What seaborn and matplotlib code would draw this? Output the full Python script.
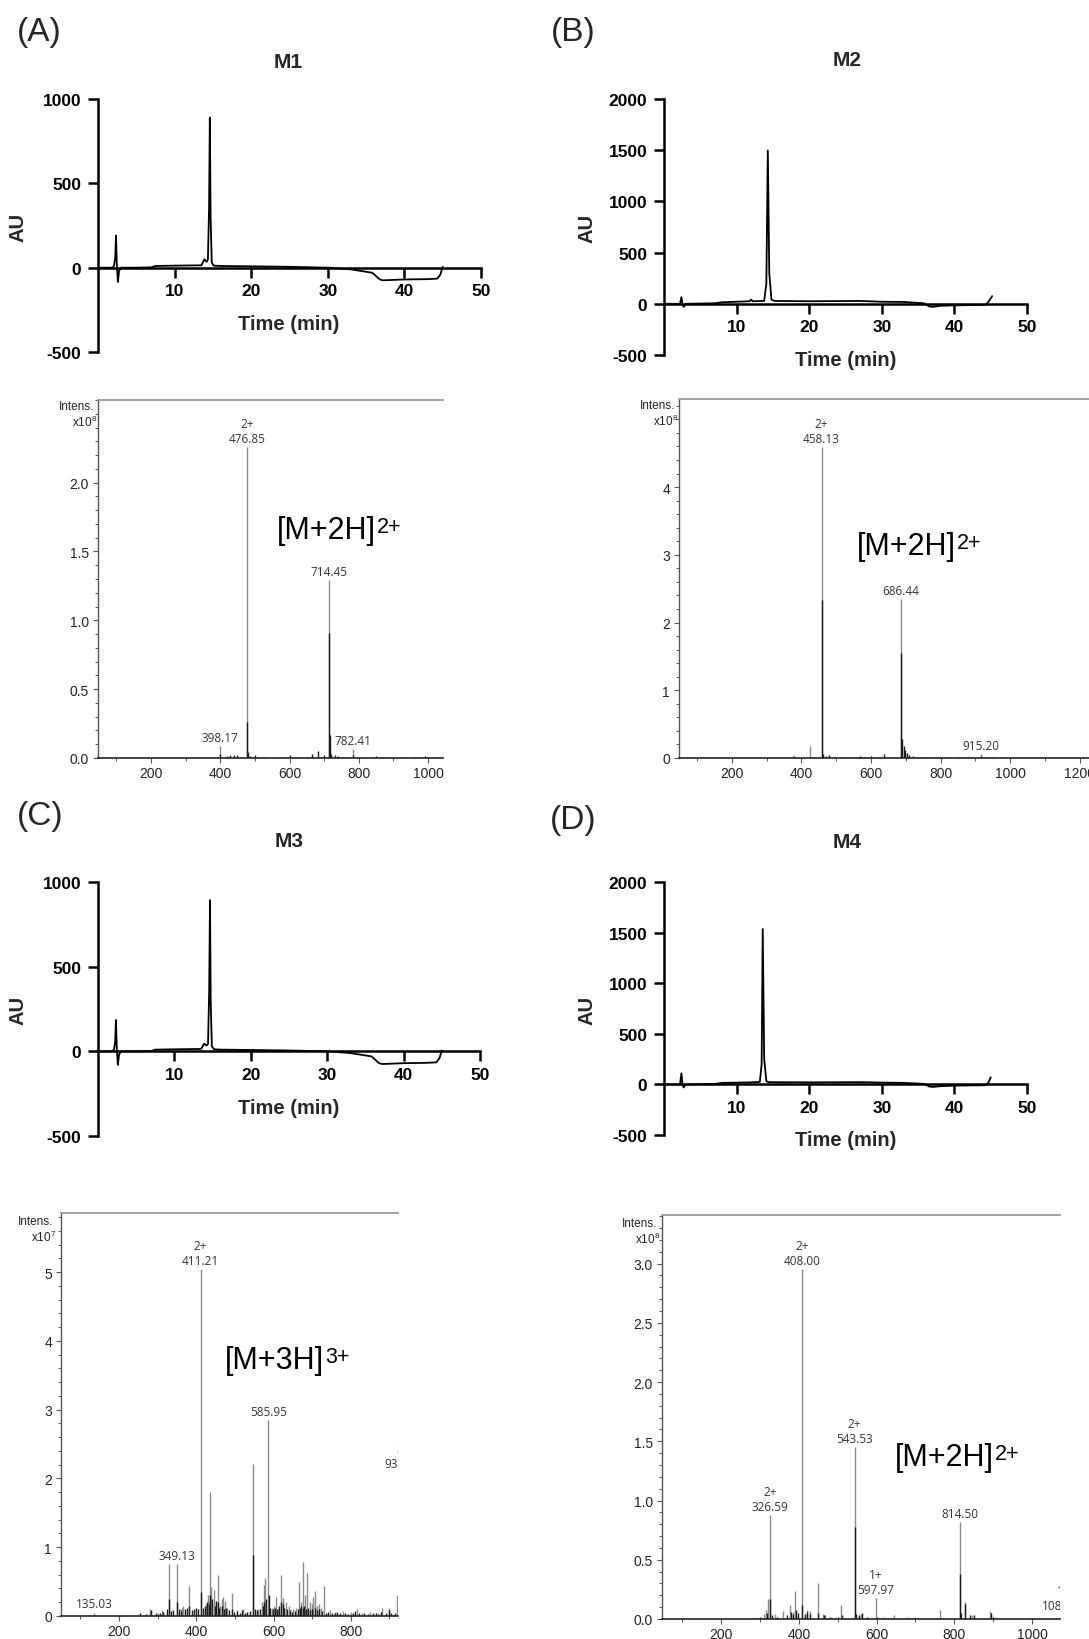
import numpy as np
import pandas as pd
import matplotlib
matplotlib.use("Agg")
import matplotlib.pyplot as plt
from matplotlib.ticker import MultipleLocator, FormatStrFormatter, FixedLocator
import seaborn as sns

# ---------------- data: HPLC chromatograms (time in min, absorbance AU) ----------------
m1_time = [0, 1.9, 2.1, 2.25, 2.35, 2.45, 2.6, 2.75, 3.0, 5, 7, 7.5, 10, 13.5, 13.9, 14.05,
           14.2, 14.35, 14.5, 14.6, 14.7, 14.85, 15.1, 16, 20, 25, 30, 33, 35.8, 36.3, 36.8,
           37.2, 40, 43, 44.3, 44.7, 45.0]
m1_au = [0, 0, 12, 60, 190, 30, -85, -20, 0, 0, 2, 10, 12, 14, 50, 40,
         35, 50, 350, 890, 300, 30, 12, 10, 8, 5, 0, -10, -30, -50, -70,
         -75, -70, -68, -65, -40, 5]

m2_time = [0, 2.2, 2.4, 2.55, 2.7, 3, 7, 8, 11.8, 12.0, 12.2, 13.8, 14.1, 14.3, 14.5, 14.8,
           15.2, 20, 27, 30, 33, 35.8, 36.5, 37.0, 38, 40, 44.3, 44.7, 45.2]
m2_au = [0, 0, 65, 0, -30, 0, 5, 15, 25, 42, 25, 28, 200, 1497, 300, 40,
         28, 25, 28, 20, 18, 5, -25, -30, -20, -15, -10, 20, 75]

m3_time = [0, 1.9, 2.1, 2.25, 2.35, 2.45, 2.6, 2.75, 3.0, 5, 7, 7.5, 10, 13.5, 13.9, 14.1,
           14.25, 14.4, 14.55, 14.66, 14.75, 14.9, 15.2, 16, 20, 25, 30, 33, 35.8, 36.3, 36.8,
           37.2, 40, 43, 44.3, 44.7, 45.0]
m3_au = [0, 0, 12, 60, 185, 30, -80, -20, 0, 0, 2, 10, 12, 14, 45, 38,
         35, 45, 350, 893, 300, 30, 12, 10, 8, 5, 0, -10, -30, -50, -70,
         -75, -70, -68, -65, -40, 5]

m4_time = [0, 2.2, 2.4, 2.55, 2.7, 3, 7, 8, 12, 13.2, 13.45, 13.6, 13.8, 14.1, 14.5, 20,
           27, 30, 33, 35.8, 36.5, 37.0, 38, 40, 44.3, 44.7, 45.0]
m4_au = [0, 0, 110, 0, -30, 0, 5, 15, 20, 25, 200, 1535, 250, 30, 22, 20,
         22, 18, 15, 5, -20, -25, -18, -12, -8, 20, 70]

# ---------------- data: ESI-MS spectra (m/z, intensity in units of the axis multiplier) -----
m1_mz = [398.17, 476.85, 714.45, 782.41]
m1_int = [0.085, 2.26, 1.29, 0.065]
m1_dark_mz = [398, 420, 428, 440, 447, 476.85, 479, 485, 500, 510, 530, 560, 600, 620, 650, 665,
              681, 700, 714.45, 717, 720, 730, 740, 750, 782, 800, 850, 900, 960, 990]
m1_dark_int = [0.03, 0.015, 0.02, 0.02, 0.025, 0.26, 0.04, 0.015, 0.025, 0.01, 0.01, 0.01, 0.025,
               0.01, 0.01, 0.03, 0.053, 0.02, 0.91, 0.17, 0.03, 0.02, 0.015, 0.01, 0.02, 0.01,
               0.012, 0.01, 0.008, 0.015]
m1_lab_mz = [476.85, 714.45, 398.17, 782.41]
m1_lab_int = [2.26, 1.29, 0.085, 0.065]
m1_lab_txt = ["2+\n476.85", "714.45", "398.17", "782.41"]

m2_mz = [375, 425, 458.13, 478, 600, 638, 686.44, 915.20]
m2_int = [0.03, 0.18, 4.59, 0.05, 0.03, 0.07, 2.35, 0.06]
m2_dark_mz = [380, 440, 458.13, 461, 470, 480, 495, 510, 560, 568, 580, 600, 620, 638, 686.44,
              689, 694, 699, 704, 710, 720, 740, 760, 800, 850, 880, 915, 950, 1100]
m2_dark_int = [0.03, 0.02, 2.33, 0.06, 0.03, 0.05, 0.02, 0.02, 0.02, 0.03, 0.02, 0.025, 0.01,
               0.05, 1.55, 0.28, 0.17, 0.12, 0.07, 0.05, 0.03, 0.02, 0.01, 0.01, 0.01, 0.01,
               0.03, 0.01, 0.01]
m2_lab_mz = [458.13, 686.44, 915.20]
m2_lab_int = [4.59, 2.35, 0.06]
m2_lab_txt = ["2+\n458.13", "686.44", "915.20"]

m3_mz = [135.03, 280, 300, 312, 328.6, 349.13, 362, 366, 382, 411.21, 425, 430, 433, 436, 439,
         445, 450, 456, 462, 466, 470, 475, 480, 491.6, 505, 520, 530, 547.6, 560, 570, 575,
         579, 585.95, 595, 602, 607, 612, 619, 625, 632, 640, 650, 658, 665, 670, 677, 681,
         686, 695, 700, 703, 707, 712, 718, 724, 730, 745, 760, 780, 800, 815, 830, 850, 870,
         880, 900, 920]
m3_int = [0.05, 0.1, 0.05, 0.08, 0.75, 0.75, 0.12, 0.15, 0.43, 5.05, 0.18, 0.3, 0.22, 1.81,
          0.42, 0.38, 0.2, 0.59, 0.15, 0.25, 0.27, 0.22, 0.12, 0.33, 0.08, 0.1, 0.06, 2.21,
          0.1, 0.2, 0.45, 0.55, 2.85, 0.12, 0.15, 0.28, 0.1, 0.59, 0.26, 0.2, 0.15, 0.1, 0.12,
          0.5, 0.2, 0.78, 0.3, 0.62, 0.2, 0.18, 0.27, 0.36, 0.15, 0.17, 0.12, 0.43, 0.08,
          0.06, 0.07, 0.06, 0.1, 0.05, 0.06, 0.05, 0.12, 0.12, 0.31]
m3_dark_mz = [255, 270, 282, 295, 305, 315, 325, 329, 335, 340, 349, 355, 360, 370, 375, 382,
              390, 395, 400, 405, 411, 418, 422, 428, 432, 436, 442, 448, 452, 456, 460, 466,
              472, 478, 485, 492, 498, 505, 512, 518, 525, 532, 540, 548, 552, 558, 565, 572,
              576, 580, 587, 592, 598, 604, 610, 615, 620, 624, 628, 635, 642, 648, 655, 662,
              668, 672, 676, 680, 684, 690, 695, 700, 706, 712, 718, 725, 735, 742, 750, 758,
              765, 772, 785, 792, 805, 812, 820, 835, 845, 858, 865, 878, 890, 898, 905, 915]
m3_dark_int = [0.04, 0.03, 0.08, 0.05, 0.04, 0.06, 0.1, 0.25, 0.07, 0.08, 0.2, 0.1, 0.08, 0.1,
               0.12, 0.15, 0.08, 0.1, 0.12, 0.1, 0.35, 0.12, 0.15, 0.2, 0.18, 0.3, 0.25, 0.15,
               0.22, 0.2, 0.12, 0.15, 0.1, 0.12, 0.08, 0.1, 0.06, 0.07, 0.05, 0.08, 0.05, 0.06,
               0.07, 0.88, 0.1, 0.08, 0.1, 0.15, 0.2, 0.25, 0.3, 0.12, 0.1, 0.12, 0.1, 0.15,
               0.2, 0.18, 0.12, 0.1, 0.08, 0.06, 0.07, 0.1, 0.12, 0.15, 0.12, 0.15, 0.1, 0.12,
               0.08, 0.1, 0.12, 0.08, 0.1, 0.07, 0.05, 0.06, 0.04, 0.05, 0.06, 0.04, 0.05, 0.03,
               0.05, 0.07, 0.04, 0.05, 0.03, 0.04, 0.05, 0.06, 0.04, 0.08, 0.04, 0.05]
m3_lab_mz = [135.03, 349.13, 411.21, 585.95, 935.40]
m3_lab_int = [0.05, 0.75, 5.05, 2.85, 2.09]
m3_lab_txt = ["135.03", "349.13", "2+\n411.21", "585.95", "2+\n935.40"]

m4_mz = [310, 315, 322, 326.59, 340, 360, 378, 385, 390, 408.00, 420, 428, 449, 462, 467, 509,
         543.53, 560, 597.97, 620, 645, 680, 700, 763, 814.50, 828, 845, 893]
m4_int = [0.04, 0.08, 0.17, 0.88, 0.04, 0.07, 0.12, 0.06, 0.24, 2.95, 0.08, 0.07, 0.30, 0.04,
          0.03, 0.12, 1.45, 0.04, 0.18, 0.02, 0.03, 0.02, 0.02, 0.08, 0.82, 0.14, 0.03, 0.07]
m4_dark_mz = [300, 318, 326.59, 330, 345, 370, 380, 385, 392, 398, 408, 415, 422, 430, 450, 465,
              480, 500, 510, 543.53, 548, 555, 562, 575, 600, 640, 700, 814.50, 816, 828, 840,
              850, 895, 900, 950, 1000]
m4_dark_int = [0.02, 0.05, 0.17, 0.03, 0.02, 0.03, 0.06, 0.04, 0.08, 0.05, 0.12, 0.04, 0.06,
               0.04, 0.05, 0.03, 0.02, 0.015, 0.03, 0.78, 0.04, 0.03, 0.05, 0.02, 0.02, 0.01,
               0.01, 0.38, 0.05, 0.13, 0.03, 0.03, 0.05, 0.02, 0.01, 0.01]
m4_lab_mz = [326.59, 408.00, 543.53, 597.97, 814.50, 1080.98]
m4_lab_int = [0.88, 2.95, 1.45, 0.18, 0.82, 0.04]
m4_lab_txt = ["2+\n326.59", "2+\n408.00", "2+\n543.53", "1+\n597.97", "814.50", "1+\n1080.98"]

# ---------------- style ----------------
sns.set_theme(style="ticks")
plt.rcParams["font.family"] = ["Liberation Sans", "DejaVu Sans"]
plt.rcParams["mathtext.fontset"] = "custom"
plt.rcParams["mathtext.rm"] = "Liberation Sans"
plt.rcParams["mathtext.it"] = "Liberation Sans:italic"
plt.rcParams["mathtext.bf"] = "Liberation Sans:bold"
plt.rcParams["axes.unicode_minus"] = False

W, H = 1089, 1640
fig = plt.figure(figsize=(W / 100, H / 100), dpi=100)
fig.patch.set_facecolor("white")
renderer = fig.canvas.get_renderer()


def add_ax(l, t, r, b):
    return fig.add_axes([l / W, 1 - b / H, (r - l) / W, (b - t) / H])


def ftext(x, y, s, **kw):
    return fig.text(x / W, 1 - y / H, s, **kw)


def ion_label(x, y, base, sup):
    t = ftext(x, y, base, fontsize=22, ha="left", va="center", color="black")
    bb = t.get_window_extent(renderer=renderer)
    top_px = H - bb.y1  # pixel row of the bbox top
    ftext(bb.x1 + 1, top_px + 1, sup, fontsize=15.5, ha="left", va="top", color="black")


def chrom(box, t, au, ymax, ystep, letter, letter_xy, title, title_xy, au_xy, time_xy):
    ax = add_ax(*box)
    ax.set_facecolor("white")
    df = pd.DataFrame({"time": t, "au": au})
    sns.lineplot(data=df, x="time", y="au", ax=ax, color="black", lw=1.3,
                 sort=False, estimator=None)
    ax.set_xlim(0, 50)
    ax.set_ylim(-500, ymax)
    ax.spines["bottom"].set_position(("data", 0))
    ax.spines["top"].set_visible(False)
    ax.spines["right"].set_visible(False)
    for s in ["left", "bottom"]:
        ax.spines[s].set_linewidth(1.8)
        ax.spines[s].set_color("black")
    xt = [10, 20, 30, 40, 50]
    yt = list(range(-500, ymax + 1, ystep))
    ax.set_xticks(xt, labels=[str(v) for v in xt], fontweight="bold", fontsize=12.5)
    ax.set_yticks(yt, labels=[str(v) for v in yt], fontweight="bold", fontsize=12.5)
    ax.tick_params(axis="both", length=7.5, width=1.8, color="black", labelcolor="black")
    ax.tick_params(axis="x", pad=3.5)
    ax.tick_params(axis="y", pad=4.5)
    ax.set_xlabel("")
    ax.set_ylabel("")
    ax.grid(False)
    ftext(*letter_xy, letter, fontsize=24, ha="center", va="center")
    ftext(*title_xy, title, fontsize=15, fontweight="bold", ha="center", va="center")
    ftext(*au_xy, "AU", fontsize=14.5, fontweight="bold", rotation=90, ha="center", va="center")
    ftext(*time_xy, "Time (min)", fontsize=14.5, fontweight="bold", ha="center", va="center")
    return ax


def ms(box, xlim, ylim, ymajors, ymin, yfmt, g_mz, g_int, d_mz, d_int, l_mz, l_int, l_txt,
       exponent, intens_xy, ion_base, ion_sup, ion_xy):
    ax = add_ax(*box)
    ax.set_facecolor("white")
    ax.vlines(g_mz, 0, g_int, color="#8a8a8a", lw=1.0)
    ax.vlines(d_mz, 0, d_int, color="#1a1a1a", lw=1.0)
    ax.set_xlim(*xlim)
    ax.set_ylim(*ylim)
    ax.spines["right"].set_visible(False)
    ax.spines["top"].set_color("#9a9a9a")
    ax.spines["top"].set_linewidth(1.3)
    ax.spines["left"].set_color("#555555")
    ax.spines["left"].set_linewidth(1.0)
    ax.spines["bottom"].set_color("#222222")
    ax.spines["bottom"].set_linewidth(1.2)
    ax.yaxis.set_major_locator(FixedLocator(ymajors))
    ax.yaxis.set_minor_locator(MultipleLocator(ymin))
    ax.yaxis.set_major_formatter(FormatStrFormatter(yfmt))
    ax.xaxis.set_major_locator(MultipleLocator(200))
    ax.xaxis.set_minor_locator(MultipleLocator(100))
    ax.tick_params(axis="both", which="major", length=3.5, width=0.8, color="#555555",
                   labelsize=10, labelcolor="#222222")
    ax.tick_params(axis="both", which="minor", length=2.5, width=0.7, color="#555555")
    ax.tick_params(axis="x", which="both", pad=2.5)
    ax.tick_params(axis="y", which="both", pad=3)
    ax.grid(False)
    for mz, v, s in zip(l_mz, l_int, l_txt):
        ax.annotate(s, xy=(mz, v), xytext=(0, 1.5), textcoords="offset points",
                    ha="center", va="bottom", fontsize=8.5, color="#333333",
                    family=["Open Sans", "DejaVu Sans"], linespacing=1.2,
                    annotation_clip=False, clip_on=True)
    ix, iy = intens_xy
    ftext(ix, iy, "Intens.", fontsize=8.5, ha="right", va="center", color="#222222")
    ftext(ix + 3, iy + 15, "x10$^{%d}$" % exponent, fontsize=8.5, ha="right", va="center",
          color="#222222")
    ion_label(ion_xy[0], ion_xy[1], ion_base, ion_sup)
    return ax


# ---------------- panels ----------------
chrom((98, 100, 481, 353), m1_time, m1_au, 1000, 500, "(A)", (39, 32), "M1", (288, 62),
      (18, 227), (289, 325))
chrom((664, 100, 1027, 356), m2_time, m2_au, 2000, 500, "(B)", (573, 32), "M2", (847, 61),
      (587, 228), (846, 360))
chrom((98, 883, 480, 1137), m3_time, m3_au, 1000, 500, "(C)", (40, 817), "M3", (289, 842),
      (18, 1010), (289, 1108))
chrom((664, 883, 1027, 1136), m4_time, m4_au, 2000, 500, "(D)", (573, 821), "M4", (847, 843),
      (587, 1010), (846, 1141))

ms((98, 401, 443, 759), (47, 1043), (0, 2.6), [0, 0.5, 1.0, 1.5, 2.0], 0.1, "%.1f",
   m1_mz, m1_int, m1_dark_mz, m1_dark_int, m1_lab_mz, m1_lab_int, m1_lab_txt,
   8, (94, 407), "[M+2H]", "2+", (277, 531))
ms((679, 400, 1089, 759), (48, 1227), (0, 5.3), [0, 1, 2, 3, 4], 0.2, "%d",
   m2_mz, m2_int, m2_dark_mz, m2_dark_int, m2_lab_mz, m2_lab_int, m2_lab_txt,
   8, (675, 406), "[M+2H]", "2+", (857, 547))
ms((61, 1214, 398, 1617), (50, 922), (0, 5.86), [0, 1, 2, 3, 4, 5], 0.2, "%d",
   m3_mz, m3_int, m3_dark_mz, m3_dark_int, m3_lab_mz, m3_lab_int, m3_lab_txt,
   7, (53, 1222), "[M+3H]", "3+", (225, 1361))
ms((662, 1216, 1060, 1620), (48, 1072), (0, 3.41), [0, 0.5, 1.0, 1.5, 2.0, 2.5, 3.0], 0.1, "%.1f",
   m4_mz, m4_int, m4_dark_mz, m4_dark_int, m4_lab_mz, m4_lab_int, m4_lab_txt,
   8, (657, 1224), "[M+2H]", "2+", (895, 1458))

fig.savefig("out.png", dpi=100, facecolor="white")
